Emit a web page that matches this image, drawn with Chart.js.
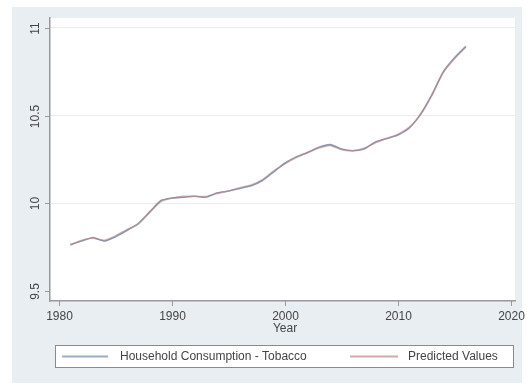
<!DOCTYPE html>
<html>
<head>
<meta charset="utf-8">
<script src="https://cdn.jsdelivr.net/npm/chart.js@4"></script>
<style>
  html, body { margin: 0; padding: 0; background: #ffffff; }
  #wrap { width: 527px; height: 383px; }
</style>
</head>
<body>
<div id="wrap"><canvas id="myChart" width="527" height="383"></canvas></div>
<script>
// datos
const anios = [1981,1982,1983,1984,1985,1986,1987,1988,1989,1990,1991,1992,1993,1994,1995,1996,1997,1998,
               1999,2000,2001,2002,2003,2004,2005,2006,2007,2008,2009,2010,2011,2012,2013,2014,2015,2016];
const consumo = [9.765,9.785,9.805,9.785,9.81,9.845,9.885,9.95,10.015,10.03,10.035,10.04,10.035,10.06,10.07,10.085,10.10,10.13,
                 10.18,10.23,10.265,10.29,10.32,10.335,10.31,10.30,10.31,10.35,10.37,10.39,10.43,10.51,10.62,10.75,10.83,10.895];
const predicho = [9.76,9.79,9.80,9.79,9.815,9.85,9.88,9.945,10.01,10.03,10.04,10.04,10.04,10.055,10.07,10.09,10.105,10.135,
                  10.185,10.225,10.26,10.29,10.315,10.33,10.305,10.30,10.315,10.345,10.37,10.395,10.435,10.505,10.615,10.745,10.825,10.89];
const ticksX = [1980,1990,2000,2010,2020];
const ticksY = [9.5,10,10.5,11];
const titulos = ['Household Consumption - Tobacco','Predicted Values'];
const colores = ['#8a9ab0','rgba(185,130,135,0.6)'];
const coloresLeyenda = ['#9aaec4','#d2aaaa'];

const fuente = '12px "Liberation Sans", Arial, sans-serif';
const gris = '#444444';

// fondo y textos estilo stata
const marco = {
  id: 'marco',
  beforeDraw(chart) {
    const c = chart.ctx, a = chart.chartArea;
    c.save();
    c.fillStyle = '#ffffff';
    c.fillRect(0, 0, chart.width, chart.height);
    c.fillStyle = '#e9eef2';
    c.fillRect(12, 7, 510, 376);
    c.fillStyle = '#ffffff';
    c.fillRect(a.left, a.top, a.right - a.left, a.bottom - a.top);
    c.restore();
  },
  afterDraw(chart) {
    const c = chart.ctx, a = chart.chartArea;
    const sx = chart.scales.x, sy = chart.scales.y;
    c.save();
    c.strokeStyle = '#999999';
    c.lineWidth = 1;
    c.fillStyle = gris;
    c.font = fuente;
    // eje x
    c.textAlign = 'center';
    c.textBaseline = 'middle';
    ticksX.forEach(t => {
      const px = Math.round(sx.getPixelForValue(t)) + 0.5;
      c.beginPath(); c.moveTo(px, a.bottom); c.lineTo(px, a.bottom + 5); c.stroke();
      c.fillText(String(t), px, a.bottom + 16);
    });
    c.fillText('Year', (sx.getPixelForValue(2000)), a.bottom + 28);
    // eje y (rotado)
    ticksY.forEach(t => {
      const py = Math.round(sy.getPixelForValue(t)) + 0.5;
      c.beginPath(); c.moveTo(a.left - 5, py); c.lineTo(a.left, py); c.stroke();
      c.save();
      c.translate(36, py);
      c.rotate(-Math.PI / 2);
      c.fillText(String(t), 0, 0);
      c.restore();
    });
    // leyenda
    c.fillStyle = '#ffffff';
    c.fillRect(55, 345, 458, 22);
    c.strokeStyle = '#8a8a8a';
    c.strokeRect(55.5, 345.5, 458, 22);
    const muestras = [[62, 108, 120], [350, 398, 408]];
    muestras.forEach((m, i) => {
      c.strokeStyle = coloresLeyenda[i];
      c.lineWidth = 2;
      c.beginPath(); c.moveTo(m[0], 356.5); c.lineTo(m[1], 356.5); c.stroke();
      c.fillStyle = gris;
      c.textAlign = 'left';
      c.fillText(titulos[i], m[2], 357);
    });
    c.restore();
  }
};

function puntos(valores) {
  return anios.map((x, i) => ({ x: x, y: valores[i] }));
}

const ctx = document.getElementById('myChart');
const mychart = new Chart(ctx, {
  type: 'line',
  data: {
    datasets: [
      { label: titulos[0], data: puntos(consumo), borderColor: colores[0], borderWidth: 1.6, pointRadius: 0, tension: 0.2, order: 2 },
      { label: titulos[1], data: puntos(predicho), borderColor: colores[1], borderWidth: 1.4, pointRadius: 0, tension: 0.2, order: 1 }
    ]
  },
  options: {
    responsive: false,
    animation: false,
    layout: { padding: { left: 50, top: 18, right: 12, bottom: 82 } },
    plugins: { legend: { display: false }, tooltip: { enabled: false } },
    scales: {
      x: {
        type: 'linear', min: 1979.2, max: 2020.35,
        afterBuildTicks: s => { s.ticks = ticksX.map(v => ({ value: v })); },
        ticks: { display: false },
        grid: { display: true, drawOnChartArea: false, drawTicks: false },
        border: { display: true, color: '#999999', width: 1.5 }
      },
      y: {
        type: 'linear', min: 9.443, max: 11.057,
        afterBuildTicks: s => { s.ticks = ticksY.map(v => ({ value: v })); },
        ticks: { display: false },
        grid: {
          drawTicks: false,
          color: c => (c.tick && c.tick.value === 9.5) ? 'rgba(0,0,0,0)' : '#ececec',
          lineWidth: 1
        },
        border: { display: true, color: '#999999', width: 1.5 }
      }
    }
  },
  plugins: [marco]
});
</script>
</body>
</html>
